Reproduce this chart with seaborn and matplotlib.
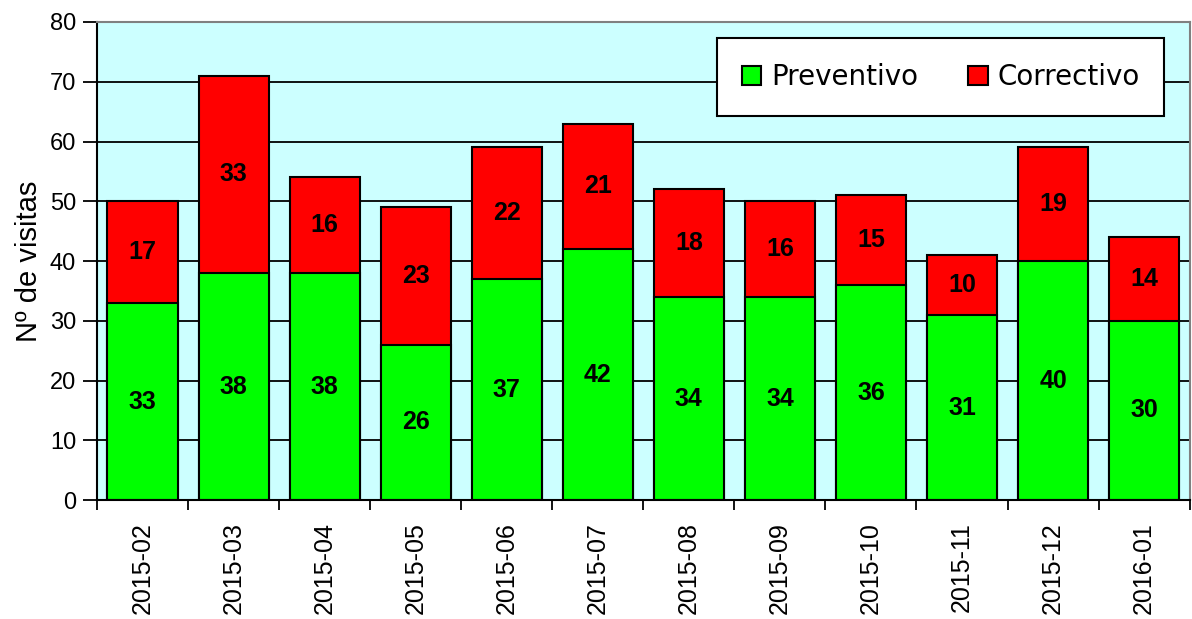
import matplotlib

matplotlib.use("Agg")

import matplotlib.pyplot as plt
import numpy as np
import pandas as pd
import seaborn as sns
from matplotlib.patches import Patch

months = ["2015-02", "2015-03", "2015-04", "2015-05", "2015-06", "2015-07",
          "2015-08", "2015-09", "2015-10", "2015-11", "2015-12", "2016-01"]
preventivo = [33, 38, 38, 26, 37, 42, 34, 34, 36, 31, 40, 30]
correctivo = [17, 33, 16, 23, 22, 21, 18, 16, 15, 10, 19, 14]

GREEN = "#00FF00"
RED = "#FF0000"
BG = "#CCFFFF"

sns.set_style("white")
plt.rcParams["font.family"] = ["Liberation Sans", "DejaVu Sans"]
plt.rcParams["text.color"] = "black"
plt.rcParams["axes.labelcolor"] = "black"
plt.rcParams["xtick.color"] = "black"
plt.rcParams["ytick.color"] = "black"

df = pd.DataFrame({"mes": months, "Preventivo": preventivo, "Correctivo": correctivo})
df["total"] = df["Preventivo"] + df["Correctivo"]

fig = plt.figure(figsize=(11.92, 6.19), dpi=100)
ax = fig.add_axes([0.0814, 0.192, 0.9166, 0.7725])
ax.set_facecolor(BG)
ax.set_axisbelow(True)
ax.yaxis.grid(True, color="black", linewidth=1.3)

# total height in red, preventivo drawn over it in green -> stacked look
sns.barplot(data=df, x="mes", y="total", color=RED, width=0.77, saturation=1,
            edgecolor="black", linewidth=1.5, ax=ax)
sns.barplot(data=df, x="mes", y="Preventivo", color=GREEN, width=0.77, saturation=1,
            edgecolor="black", linewidth=1.5, ax=ax)

for i, (p, c) in enumerate(zip(preventivo, correctivo)):
    ax.text(i, p / 2, str(p), ha="center", va="center", fontsize=18, fontweight="bold")
    ax.text(i, p + c / 2, str(c), ha="center", va="center", fontsize=18, fontweight="bold")

ax.set_xlim(-0.5, len(months) - 0.5)
ax.set_ylim(0, 80)
ax.set_yticks(range(0, 81, 10))
ax.set_xlabel("")
ax.set_ylabel("Nº de visitas", fontsize=21, labelpad=5)
ax.tick_params(axis="y", labelsize=17, length=10, width=1.3, direction="out", left=True, pad=5)
ax.tick_params(axis="x", which="major", labelsize=18, length=0, rotation=90, pad=16)
ax.set_xticks(np.arange(-0.5, len(months), 1.0), minor=True)
ax.tick_params(axis="x", which="minor", length=7, width=1.3, direction="out", bottom=True)

for side in ("left", "bottom"):
    ax.spines[side].set_color("black")
    ax.spines[side].set_linewidth(1.5)
for side in ("top", "right"):
    ax.spines[side].set_color("#808080")
    ax.spines[side].set_linewidth(1.5)

handles = [Patch(facecolor=GREEN, edgecolor="black", linewidth=1.5, label="Preventivo"),
           Patch(facecolor=RED, edgecolor="black", linewidth=1.5, label="Correctivo")]
leg = ax.legend(handles=handles, ncol=2, loc="upper right", bbox_to_anchor=(0.977, 0.9665),
                prop={"family": "DejaVu Sans", "size": 20}, frameon=True, fancybox=False,
                handlelength=0.7, handleheight=0.7, handletextpad=0.35, columnspacing=1.8,
                borderpad=0.9, borderaxespad=0)
leg.get_frame().set_edgecolor("black")
leg.get_frame().set_linewidth(1.5)
leg.get_frame().set_facecolor("white")
leg.get_frame().set_alpha(1)

fig.savefig("out.png", dpi=100, facecolor="white")
